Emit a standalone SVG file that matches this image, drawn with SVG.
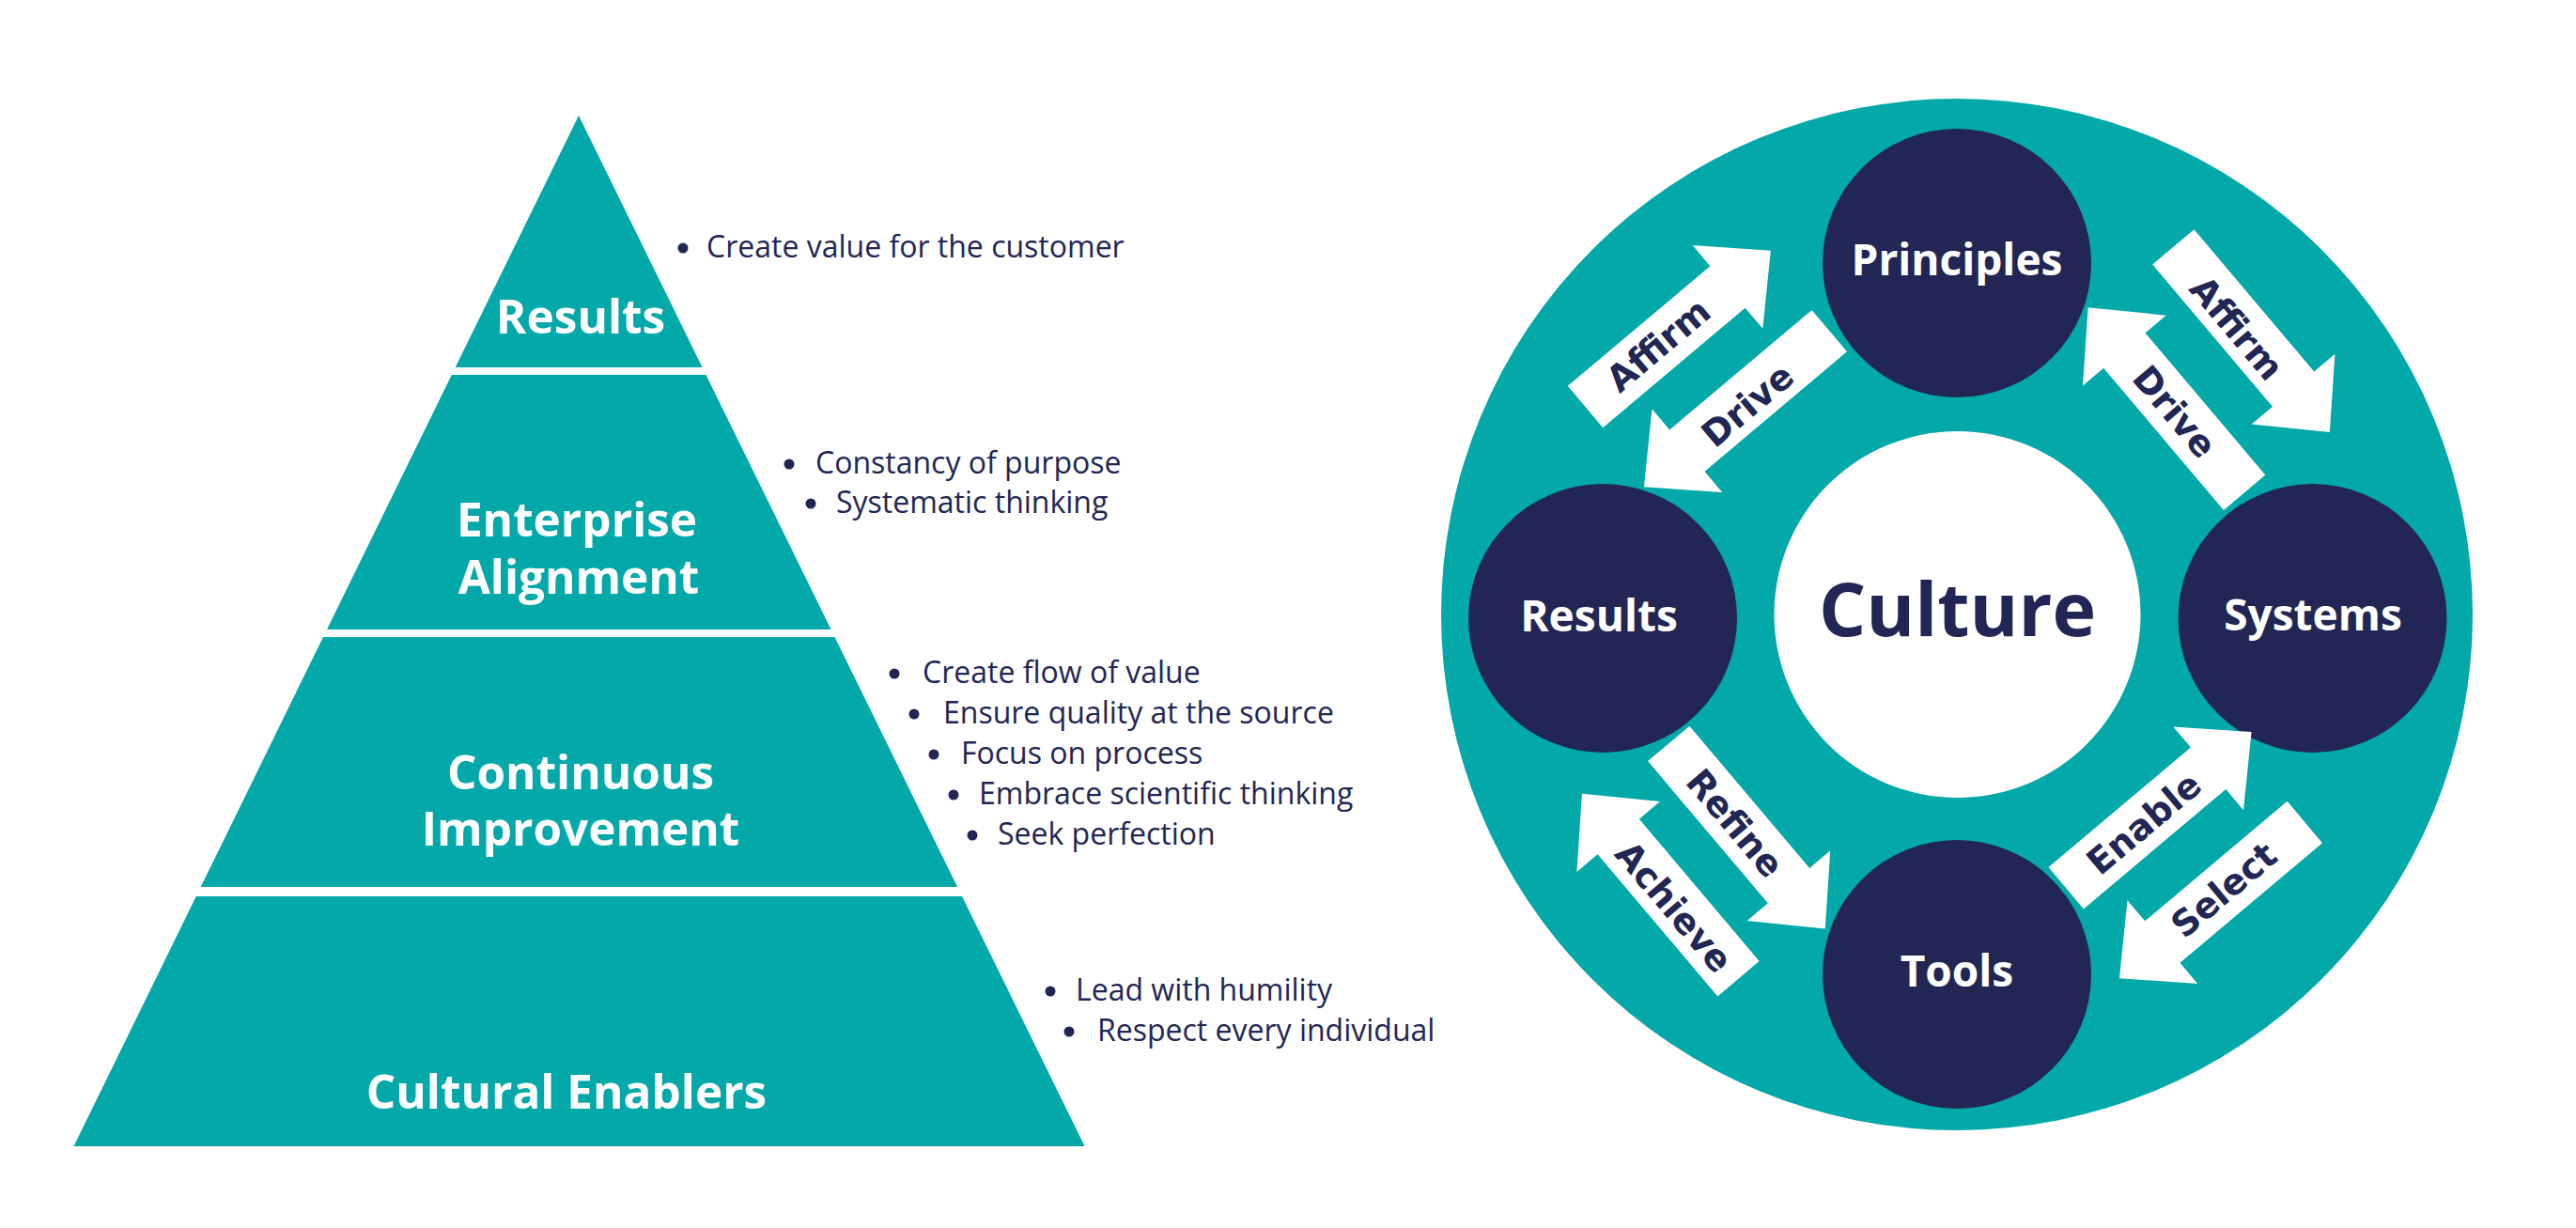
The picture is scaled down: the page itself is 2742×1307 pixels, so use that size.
<svg xmlns="http://www.w3.org/2000/svg" xmlns:xlink="http://www.w3.org/1999/xlink" width="2742" height="1307" viewBox="0 0 2742 1307">
<defs>
<style>
.teal{fill:#03A8A8}
.navy{fill:#212654}
.ptitle{font-family:"Open Sans","Liberation Sans",sans-serif;font-weight:700;font-size:49.5px;fill:#ffffff;text-anchor:middle}
.ctitle{font-family:"Open Sans","Liberation Sans",sans-serif;font-weight:700;font-size:46px;fill:#ffffff;text-anchor:middle}
.bul{font-family:"Open Sans","Liberation Sans",sans-serif;font-size:32px;fill:#212654}
.atxt{font-family:"DejaVu Sans","Verdana",sans-serif;font-weight:700;font-size:38px;fill:#212654;text-anchor:middle}
.arrow{fill:#ffffff}
</style>
<polygon id="arr" points="0,-29 198,-29 198,-58 258,0 198,58 198,29 0,29"/>
</defs>
<rect width="2742" height="1307" fill="#ffffff"/>

<g id="pyramid">
<g id="tier-results">
<polygon class="teal" points="616,123 747.6,391 484.7,391"/>
<text class="ptitle" x="618" y="355">Results</text>
</g>
<g id="tier-enterprise">
<polygon class="teal" points="480.8,399 751.5,399 884.6,670 348,670"/>
<text class="ptitle" x="614" y="571">Enterprise</text>
<text class="ptitle" x="616" y="632">Alignment</text>
</g>
<g id="tier-continuous">
<polygon class="teal" points="344,678 888.5,678 1019.1,944 213.7,944"/>
<text class="ptitle" x="618" y="840">Continuous</text>
<text class="ptitle" x="618" y="900">Improvement</text>
</g>
<g id="tier-cultural">
<polygon class="teal" points="208.8,954 1024,954 1154.6,1220 78.5,1220"/>
<text class="ptitle" x="603" y="1180">Cultural Enablers</text>
</g>
</g>

<g id="bullets">
<g class="navy">
<circle cx="727" cy="264" r="5.5"/>
<circle cx="840" cy="494" r="5.5"/>
<circle cx="863" cy="536" r="5.5"/>
<circle cx="952" cy="717" r="5.5"/>
<circle cx="973" cy="760" r="5.5"/>
<circle cx="994" cy="803" r="5.5"/>
<circle cx="1015" cy="846" r="5.5"/>
<circle cx="1035" cy="889" r="5.5"/>
<circle cx="1118" cy="1055" r="5.5"/>
<circle cx="1138" cy="1098" r="5.5"/>
</g>
<text class="bul" x="752" y="274">Create value for the customer</text>
<text class="bul" x="868" y="504">Constancy of purpose</text>
<text class="bul" x="890" y="546">Systematic thinking</text>
<text class="bul" x="982" y="727">Create flow of value</text>
<text class="bul" x="1004" y="770">Ensure quality at the source</text>
<text class="bul" x="1023" y="813">Focus on process</text>
<text class="bul" x="1042" y="856">Embrace scientific thinking</text>
<text class="bul" x="1062" y="899">Seek perfection</text>
<text class="bul" x="1145" y="1065">Lead with humility</text>
<text class="bul" x="1168" y="1108">Respect every individual</text>
</g>

<g id="ring">
<circle class="teal" cx="2083" cy="654" r="549"/>
</g>

<g id="culture">
<circle cx="2083.5" cy="654" r="195" fill="#ffffff"/>
<text x="2083.5" y="677" font-family="Open Sans, Liberation Sans, sans-serif" font-weight="700" font-size="79" fill="#212654" text-anchor="middle">Culture</text>
</g>

<g id="principles">
<circle class="navy" cx="2083" cy="280" r="143"/>
<text class="ctitle" x="2083" y="293">Principles</text>
</g>
<g id="results">
<circle class="navy" cx="1706" cy="658" r="143"/>
<text class="ctitle" x="1702" y="672">Results</text>
</g>
<g id="systems">
<circle class="navy" cx="2461.5" cy="658" r="143"/>
<text class="ctitle" x="2462" y="671">Systems</text>
</g>
<g id="tools">
<circle class="navy" cx="2083" cy="1037" r="143"/>
<text class="ctitle" x="2083" y="1050">Tools</text>
</g>

<g id="connectors">
<g id="p1-affirm">
<use xlink:href="#arr" class="arrow" transform="translate(1687.5,433) rotate(-40.1)"/>
<text class="atxt" transform="translate(1765,367) rotate(-40.1)" y="13.5">Affirm</text>
</g>
<g id="p1-drive">
<use xlink:href="#arr" class="arrow" transform="translate(1947.3,352.1) rotate(139.9)"/>
<text class="atxt" transform="translate(1860,431) rotate(-40.1)" y="13.5">Drive</text>
</g>
<g id="p2-affirm">
<use xlink:href="#arr" class="arrow" transform="translate(2313.3,262.9) rotate(49.8)"/>
<text class="atxt" transform="translate(2381,349) rotate(49.8)" y="13.5">Affirm</text>
</g>
<g id="p2-drive">
<use xlink:href="#arr" class="arrow" transform="translate(2389.1,524.3) rotate(-130.2)"/>
<text class="atxt" transform="translate(2315,438) rotate(49.8)" y="13.5">Drive</text>
</g>
<g id="p3-enable">
<use xlink:href="#arr" class="arrow" transform="translate(2199.2,945.3) rotate(-40.1)"/>
<text class="atxt" transform="translate(2282,876) rotate(-40.1)" y="13.5">Enable</text>
</g>
<g id="p3-select">
<use xlink:href="#arr" class="arrow" transform="translate(2453.3,875) rotate(139.9)"/>
<text class="atxt" transform="translate(2367,947) rotate(-40.1)" y="13.5">Select</text>
</g>
<g id="p4-refine">
<use xlink:href="#arr" class="arrow" transform="translate(1776.2,791.4) rotate(49.8)"/>
<text class="atxt" transform="translate(1847,876) rotate(49.8)" y="13.5">Refine</text>
</g>
<g id="p4-achieve">
<use xlink:href="#arr" class="arrow" transform="translate(1850.5,1041.7) rotate(-130.2)"/>
<text class="atxt" transform="translate(1782,965) rotate(49.8)" y="13.5">Achieve</text>
</g>
</g>
</svg>
